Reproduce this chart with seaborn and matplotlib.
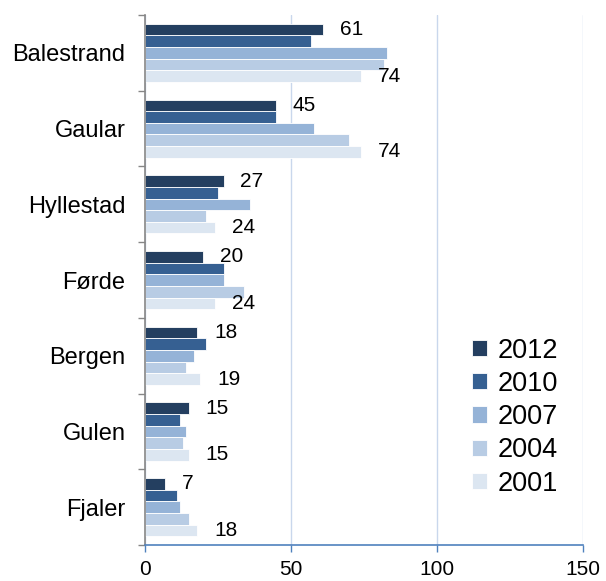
"""Municipality ranking bars, 2001-2012."""

import matplotlib.pyplot as plt
import numpy as np
import pandas as pd
import seaborn as sns


MUNICIPALITIES = ["Balestrand", "Gaular", "Hyllestad", "Førde", "Bergen", "Gulen", "Fjaler"]
YEARS = ["2012", "2010", "2007", "2004", "2001"]
VALUES_2012 = [61, 45, 27, 20, 18, 15, 7]
VALUES_2010 = [57, 45, 25, 27, 21, 12, 11]
VALUES_2007 = [83, 58, 36, 27, 17, 14, 12]
VALUES_2004 = [82, 70, 21, 34, 14, 13, 15]
VALUES_2001 = [74, 74, 24, 24, 19, 15, 18]
X_TICKS = [0, 50, 100, 150]

COLORS = ["#243F60", "#366092", "#95B3D7", "#B8CCE4", "#DCE6F1"]
LABELLED_YEARS = ["2012", "2001"]


def build_frame():
    series = [VALUES_2012, VALUES_2010, VALUES_2007, VALUES_2004, VALUES_2001]
    rows = []
    for year, values in zip(YEARS, series):
        for name, value in zip(MUNICIPALITIES, values):
            rows.append({"Kommune": name, "Year": year, "Value": value})
    return pd.DataFrame(rows)


def draw(df):
    sns.set_theme(style="white")
    plt.rcParams["font.family"] = ["Liberation Sans", "DejaVu Sans"]
    plt.rcParams["text.color"] = "black"
    plt.rcParams["xtick.color"] = "black"
    plt.rcParams["ytick.color"] = "black"

    fig = plt.figure(figsize=(6.06, 5.81), dpi=100)
    ax = fig.add_axes([0.239, 0.062, 0.723, 0.912])

    sns.barplot(
        data=df,
        x="Value",
        y="Kommune",
        hue="Year",
        hue_order=YEARS,
        order=MUNICIPALITIES,
        palette=COLORS,
        saturation=1,
        orient="h",
        width=0.77,
        edgecolor="white",
        linewidth=0.6,
        ax=ax,
    )

    for year, container in zip(YEARS, ax.containers):
        if year in LABELLED_YEARS:
            ax.bar_label(container, padding=12, fontsize=15, color="black")

    ax.set_xlim(0, 150)
    ax.set_ylim(len(MUNICIPALITIES) - 0.5, -0.5)
    ax.set_xticks(X_TICKS)
    ax.set_xticklabels([str(t) for t in X_TICKS], fontsize=15)
    ax.set_xlabel("")
    ax.set_ylabel("")
    ax.tick_params(axis="y", which="major", length=0, labelsize=17, pad=14, labelcolor="black")
    ax.set_yticks(np.arange(-0.5, len(MUNICIPALITIES)), minor=True)
    ax.tick_params(axis="y", which="minor", left=True, length=5, color="#868686", width=1, direction="out")
    ax.tick_params(axis="x", bottom=True, length=5, color="#4F81BD", width=1, direction="out",
                   pad=6, labelcolor="black")

    ax.grid(axis="x", color="#C9D7EC", linewidth=1)
    ax.set_axisbelow(True)
    for side in ["top", "right"]:
        ax.spines[side].set_visible(False)
    ax.spines["left"].set_color("#868686")
    ax.spines["left"].set_linewidth(1.2)
    ax.spines["bottom"].set_color("#4F81BD")
    ax.spines["bottom"].set_linewidth(1.2)

    ax.legend(
        loc="lower right",
        bbox_to_anchor=(1.0, 0.045),
        frameon=False,
        fontsize=19.5,
        handlelength=0.55,
        handleheight=0.55,
        handletextpad=0.4,
        labelspacing=0.27,
    )

    fig.savefig("out.png", dpi=100)
    plt.close(fig)


if __name__ == "__main__":
    draw(build_frame())
